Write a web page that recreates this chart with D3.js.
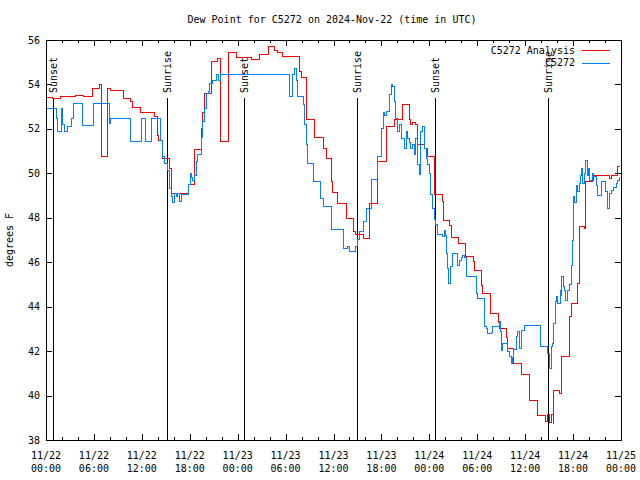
<!DOCTYPE html>
<html><head><meta charset="utf-8">
<script src="https://cdn.jsdelivr.net/npm/d3@7"></script>
<style>
body{margin:0;background:#fff}
svg{display:block}
text{font-family:"DejaVu Sans Mono","Liberation Mono",monospace;font-size:10px;fill:#000}
</style>
</head><body>
<svg id="c" width="640" height="480"></svg>
<script>
// hours since 2024-11-22 00:00 UTC, dew point °F
const analysisSeries = [[0,53.42],[0.8,53.38],[1.8,53.45],[3.7,53.52],[4.75,53.45],[5.8,53.83],[6.75,53.98],[6.95,50.78],[7.65,53.8],[8.1,53.75],[9.75,53.37],[10.6,53.23],[10.8,52.95],[11.85,52.75],[13.6,52.55],[13.9,51.72],[14.1,51.5],[14.65,50.67],[15.5,50.24],[15.7,49.1],[17.8,49.49],[18.6,51.06],[19.5,52.04],[19.65,52.76],[19.9,53.61],[20.7,55.04],[21.5,55.16],[21.8,51.44],[22.8,55.46],[23.8,55.22],[25.7,55.12],[26.75,55.34],[27.8,55.72],[28.6,55.52],[29.0,55.42],[29.6,55.27],[31.75,54.59],[32.0,54.32],[32.6,52.41],[33.6,51.6],[34.7,51.14],[35.1,50.69],[35.7,49.64],[35.9,49.16],[36.5,48.66],[37.6,47.99],[38.5,47.39],[38.8,47.24],[39.7,47.09],[40.5,48.66],[41.5,50.54],[42.6,52.12],[43.6,52.41],[44.7,53.09],[45.5,52.41],[45.7,52.19],[45.9,52.3],[46.3,52.19],[46.5,51.29],[47.4,51.14],[47.8,50.77],[48.6,49.04],[49.6,48.72],[49.75,47.9],[50.5,47.67],[50.75,47.13],[51.6,46.86],[52.5,46.25],[53.5,46.02],[53.6,45.65],[54.5,44.97],[54.6,44.6],[55.6,43.7],[56.6,43.27],[56.75,43.0],[57.6,42.6],[57.75,42.1],[58.5,41.7],[58.6,41.46],[59.5,40.97],[60.5,39.8],[61.5,39.5],[61.6,39.12],[62.6,38.82],[62.75,39.15],[63.1,38.8],[63.25,39.15],[63.5,38.75],[63.6,40.22],[64.25,40.1],[64.5,40.55],[64.6,41.75],[65.5,42.27],[65.6,43.55],[65.75,44.15],[66.5,45.05],[66.75,47.6],[67.4,47.5],[67.6,49.62],[68.4,49.7],[68.6,49.92],[70.5,49.78],[70.75,49.92],[71.5,50.3],[71.75,50.35]];

const observedSeries = [[0,52.9],[1.3,52.48],[1.5,51.87],[1.9,52.93],[2.1,52.2],[2.3,51.87],[2.75,52.1],[3.2,52.48],[3.5,53.15],[4.6,52.17],[6.0,53.15],[7.9,52.25],[8.1,52.48],[10.6,51.42],[11.9,52.48],[12.5,51.42],[13.25,52.48],[14.3,51.5],[14.6,50.75],[14.9,50.45],[15.25,50.15],[15.5,49.34],[15.7,48.97],[15.9,48.67],[16.1,49.1],[16.3,48.95],[16.5,49.1],[16.75,48.74],[16.95,49.04],[17.9,49.49],[18.1,50.0],[18.2,49.8],[18.4,49.7],[18.6,49.9],[18.8,50.54],[19.0,50.84],[19.5,51.6],[19.65,52.34],[19.9,52.94],[20.1,53.61],[20.3,53.7],[20.5,54.06],[20.9,54.17],[21.3,54.44],[21.65,54.2],[21.8,54.44],[22.2,54.47],[30.5,53.47],[30.9,54.44],[31.1,54.74],[31.4,54.2],[31.5,53.47],[32.2,53.09],[32.4,52.19],[32.6,51.29],[32.8,50.46],[33.5,49.64],[34.4,48.89],[34.7,48.52],[35.7,47.46],[37.2,46.64],[37.8,46.71],[38.0,46.49],[38.8,46.71],[39.0,47.01],[39.25,47.39],[39.7,47.84],[40.1,48.44],[40.7,49.71],[41.5,50.77],[42.0,52.04],[42.2,52.72],[42.4,52.6],[42.6,52.8],[43.0,53.54],[43.2,53.99],[43.4,53.9],[43.6,53.24],[43.8,52.49],[44.0,51.89],[44.25,52.2],[44.5,51.59],[44.9,51.14],[45.1,51.89],[45.3,51.59],[45.5,51.4],[45.7,51.14],[45.9,51.29],[46.1,50.84],[46.3,51.59],[46.5,50.39],[46.75,49.94],[46.95,51.89],[47.2,52.12],[47.4,51.14],[47.6,50.69],[47.8,50.39],[48.0,50.0],[48.2,49.04],[48.4,48.44],[48.6,47.91],[48.8,47.7],[49.0,47.24],[49.6,47.18],[49.9,47.45],[50.0,47.2],[50.1,46.4],[50.25,45.73],[50.4,45.05],[50.6,45.8],[50.9,46.4],[51.4,46.4],[51.5,45.87],[51.75,46.1],[52.0,46.2],[52.1,46.32],[52.4,46.2],[52.6,45.35],[53.9,44.6],[54.0,44.37],[54.9,43.1],[55.1,43.0],[55.25,42.8],[55.75,42.85],[55.9,43.1],[56.75,43.32],[56.9,42.9],[57.0,42.05],[57.1,42.35],[57.75,41.97],[58.0,41.75],[58.25,41.45],[58.4,41.7],[58.6,42.08],[58.9,42.65],[59.1,42.87],[59.25,42.1],[59.5,42.87],[59.6,42.95],[59.9,43.17],[61.9,42.2],[62.75,41.9],[63.0,41.24],[63.25,42.2],[63.4,42.35],[63.5,42.8],[63.6,43.25],[63.75,44.22],[63.9,44.45],[64.1,44.15],[64.4,44.75],[64.5,44.5],[64.6,45.35],[64.75,44.9],[64.9,44.75],[65.1,44.3],[65.25,44.75],[65.5,45.0],[65.75,45.87],[65.9,47.0],[66.0,48.35],[66.1,48.95],[66.2,48.7],[66.4,49.47],[66.5,49.2],[66.75,49.55],[66.9,49.9],[67.1,50.22],[67.2,49.55],[67.4,50.0],[67.6,50.6],[67.75,49.9],[67.9,50.2],[68.0,49.7],[68.4,50.0],[68.6,49.85],[68.9,49.47],[69.0,49.02],[69.6,49.62],[70.1,49.17],[70.25,48.42],[70.5,49.1],[70.75,49.25],[71.1,49.35],[71.4,49.55],[71.5,49.7],[71.75,49.85]];

const seriesNames = ["C5272 Analysis", "C5272"];
const seriesColors = ["#ff0000", "#0080ff"];

const eventHours = [0.9, 15.1, 24.8, 38.9, 48.75, 62.9];
const eventLabels = ["Sunset","Sunrise","Sunset","Sunrise","Sunset","Sunrise"];

const xTickHours = [0,6,12,18,24,30,36,42,48,54,60,66,72];
const xTickDates = ["11/22","11/22","11/22","11/22","11/23","11/23","11/23","11/23","11/24","11/24","11/24","11/24","11/25"];
const xTickTimes = ["00:00","06:00","12:00","18:00","00:00","06:00","12:00","18:00","00:00","06:00","12:00","18:00","00:00"];
const xMinorHours = d3.range(0, 73, 2).filter(h => h % 6 !== 0);
const yTicks = [38,40,42,44,46,48,50,52,54,56];

const titleText = "Dew Point for C5272 on 2024-Nov-22 (time in UTC)";
const yLabel = "degrees F";

const L = 46, R = 621, T = 40, B = 440;
const svg = d3.select("#c");
const x = d3.scaleLinear().domain([0, 72]).range([L, R]);
const y = d3.scaleLinear().domain([38, 56]).range([B, T]);

svg.append("rect").attr("width",640).attr("height",480).attr("fill","#fff");

// title
svg.append("text").attr("x", 332).attr("y", 23).attr("text-anchor","middle").text(titleText);
// y label
svg.append("text").attr("transform","translate(13,240) rotate(-90)").attr("text-anchor","middle").text(yLabel);

function styleAxis(g){
  g.select(".domain").remove();
  g.selectAll(".tick line").attr("stroke","#000").attr("shape-rendering","crispEdges");
  g.selectAll(".tick text").remove();
}
// major/minor x ticks bottom & top
svg.append("g").attr("transform",`translate(0,${B})`)
  .call(d3.axisBottom(x).tickValues(xTickHours).tickSize(-6)).call(styleAxis);
svg.append("g").attr("transform",`translate(0,${B})`)
  .call(d3.axisBottom(x).tickValues(xMinorHours).tickSize(-3)).call(styleAxis);
svg.append("g").attr("transform",`translate(0,${T})`)
  .call(d3.axisTop(x).tickValues(xTickHours).tickSize(-6)).call(styleAxis);
svg.append("g").attr("transform",`translate(0,${T})`)
  .call(d3.axisTop(x).tickValues(xMinorHours).tickSize(-3)).call(styleAxis);
// y ticks left & right
svg.append("g").attr("transform",`translate(${L},0)`)
  .call(d3.axisLeft(y).tickValues(yTicks).tickSize(-6)).call(styleAxis);
svg.append("g").attr("transform",`translate(${R},0)`)
  .call(d3.axisRight(y).tickValues(yTicks).tickSize(-6)).call(styleAxis);

// tick labels
svg.append("g").selectAll("text").data(yTicks).join("text")
  .attr("x", 40).attr("y", d => y(d) + 3.5).attr("text-anchor","end").text(d => d);
const xl = svg.append("g").selectAll("text").data(xTickHours).join("text")
  .attr("text-anchor","middle");
xl.append("tspan").attr("x", d => x(d)).attr("y", 459).text((d,i) => xTickDates[i]);
xl.append("tspan").attr("x", d => x(d)).attr("y", 472).text((d,i) => xTickTimes[i]);

// sunrise/sunset markers
const ev = svg.append("g");
ev.selectAll("line").data(eventHours).join("line")
  .attr("x1", d => Math.round(x(d)) + 0.5).attr("x2", d => Math.round(x(d)) + 0.5)
  .attr("y1", 98).attr("y2", B).attr("stroke","#000").attr("shape-rendering","crispEdges");
ev.selectAll("text").data(eventHours).join("text")
  .attr("transform", d => `translate(${Math.round(x(d)) + 4},93) rotate(-90)`)
  .attr("text-anchor","start").text((d,i) => eventLabels[i]);

// series
const line = d3.line().x(d => x(d[0])).y(d => y(d[1])).curve(d3.curveStepAfter);
[analysisSeries, observedSeries].forEach((s, i) => {
  svg.append("path").datum(s).attr("d", line)
    .attr("fill","none").attr("stroke", seriesColors[i]).attr("stroke-width",1)
    .attr("shape-rendering","crispEdges");
});

// legend
const lg = svg.append("g");
seriesNames.forEach((n, i) => {
  const yy = 50 + i * 12.5;
  lg.append("text").attr("x", 575).attr("y", yy + 3.5).attr("text-anchor","end").text(n);
  lg.append("line").attr("x1", 582).attr("x2", 610).attr("y1", Math.round(yy)+0.5).attr("y2", Math.round(yy)+0.5)
    .attr("stroke", seriesColors[i]).attr("shape-rendering","crispEdges");
});

// frame
svg.append("rect").attr("x", L + 0.5).attr("y", T + 0.5).attr("width", R - L).attr("height", B - T)
  .attr("fill","none").attr("stroke","#000").attr("shape-rendering","crispEdges");
</script>
</body></html>
